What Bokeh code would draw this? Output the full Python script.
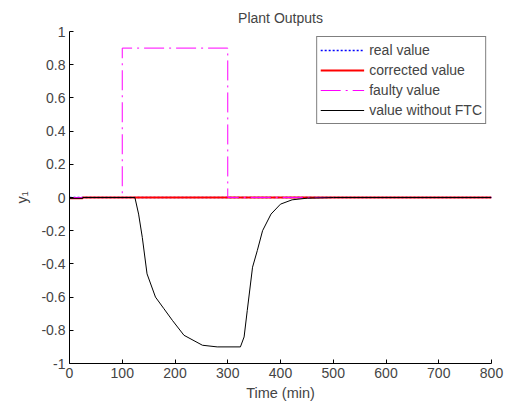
from bokeh.plotting import figure
from bokeh.models import Range1d, Legend, LegendItem, FixedTicker
from bokeh.embed import file_html
from bokeh.resources import INLINE

# data
t_real = [0, 800]
y_real = [0, 0]
t_corr = [0, 25, 25, 800]
y_corr = [-0.004, -0.004, 0.0, 0.0]
t_fault = [0, 100, 100, 300, 300, 800]
y_fault = [0, 0, 0.9, 0.9, 0, 0]
t_noftc = [0, 25, 25, 124, 131, 138, 147, 163, 179, 195, 217, 252, 280, 324,
           331, 337, 347, 356, 366, 382, 400, 422, 451, 500, 800]
y_noftc = [-0.005, -0.005, 0, 0, -0.10, -0.24, -0.46, -0.60, -0.67, -0.74, -0.83,
           -0.89, -0.90, -0.90, -0.84, -0.68, -0.42, -0.32, -0.20, -0.10, -0.04,
           -0.014, -0.004, 0, 0]
x_ticks = [0, 100, 200, 300, 400, 500, 600, 700, 800]
y_ticks = [-1, -0.8, -0.6, -0.4, -0.2, 0, 0.2, 0.4, 0.6, 0.8, 1]

FONT = "Liberation Sans"

p = figure(width=507, height=404, output_backend="svg", toolbar_location=None,
           x_range=Range1d(0, 800), y_range=Range1d(-1, 1),
           min_border_left=69, min_border_right=16, min_border_top=31, min_border_bottom=41,
           title="Plant Outputs")
p.title.align = "center"
p.title.text_font = FONT
p.title.text_font_size = "14px"
p.title.text_font_style = "normal"
p.title.offset = 0
p.title.standoff = 12
p.outline_line_color = None
p.grid.visible = False

for ax in (p.xaxis[0], p.yaxis[0]):
    ax.major_label_text_font = FONT
    ax.major_label_text_font_size = "14px"
    ax.axis_label_text_font = FONT
    ax.axis_label_text_font_size = "14.5px"
    ax.axis_label_text_font_style = "normal"
    ax.major_tick_in = 4
    ax.major_tick_out = 0
    ax.minor_tick_line_color = None
    ax.axis_line_color = "black"
    ax.major_tick_line_color = "black"
    ax.major_label_standoff = 4

p.xaxis.ticker = FixedTicker(ticks=x_ticks)
p.yaxis.ticker = FixedTicker(ticks=y_ticks)
p.yaxis.major_label_overrides = {v: ("0" if v == 0 else f"{v:g}") for v in y_ticks}
p.xaxis.axis_label = "Time (min)"
p.yaxis.axis_label = "y₁"
p.xaxis.axis_label_standoff = 4
p.yaxis.axis_label_standoff = 8

r1 = p.line(t_real, y_real, line_color="blue", line_width=1.5, line_dash="2 2")
r2 = p.line(t_corr, y_corr, line_color="red", line_width=2)
r3 = p.line(t_fault, y_fault, line_color="magenta", line_width=1, line_dash="20 5 2 5")
r4 = p.line(t_noftc, y_noftc, line_color="black", line_width=1)

legend = Legend(items=[
    LegendItem(label="real value", renderers=[r1]),
    LegendItem(label="corrected value", renderers=[r2]),
    LegendItem(label="faulty value", renderers=[r3]),
    LegendItem(label="value without FTC", renderers=[r4]),
], location="top_right")
legend.label_text_font = FONT
legend.label_text_font_size = "14px"
legend.glyph_width = 44
legend.glyph_height = 20
legend.label_height = 20
legend.spacing = 0
legend.padding = 3
legend.margin = 5
legend.label_standoff = 5
legend.border_line_color = "black"
legend.border_line_width = 1
legend.background_fill_alpha = 1
p.add_layout(legend)

open("out.html", "w").write(file_html(p, INLINE))
